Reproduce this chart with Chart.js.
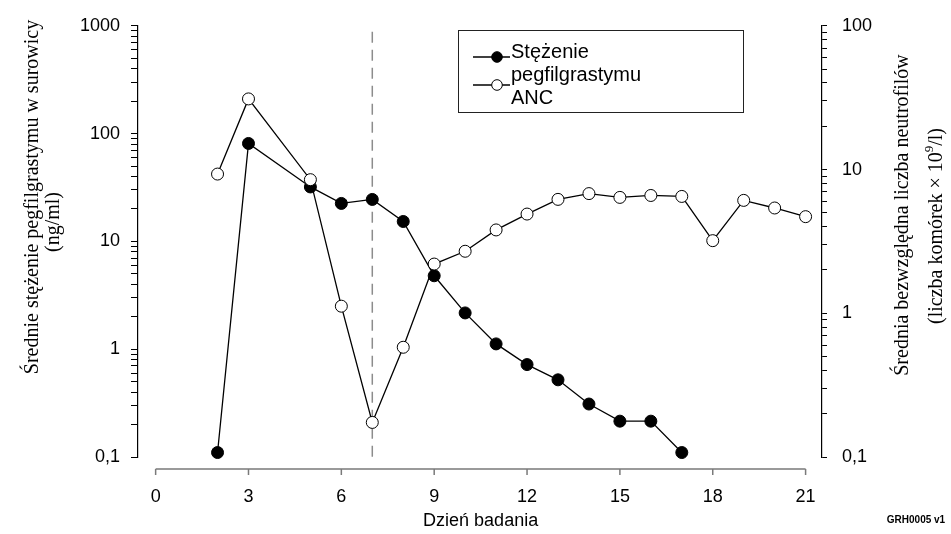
<!DOCTYPE html>
<html>
<head>
<meta charset="utf-8">
<script src="https://cdn.jsdelivr.net/npm/chart.js@4"></script>
<style>
  html, body { margin: 0; padding: 0; background: #fff; }
  #wrap { width: 951px; height: 534px; }
</style>
</head>
<body>
<div id="wrap"><canvas id="grafico"></canvas></div>
<script>
// dane
const dniPeg = [2, 3, 5, 6, 7, 8, 9, 10, 11, 12, 13, 14, 15, 16, 17];
const stezeniePeg = [0.11, 81, 32, 22.5, 24.5, 15.3, 4.8, 2.17, 1.12, 0.72, 0.52, 0.31, 0.215, 0.215, 0.11];
const dniAnc = [2, 3, 5, 6, 7, 8, 9, 10, 11, 12, 13, 14, 15, 16, 17, 18, 19, 20, 21];
const wartosciAnc = [9.3, 31, 8.5, 1.12, 0.174, 0.58, 2.2, 2.7, 3.8, 4.9, 6.2, 6.8, 6.4, 6.6, 6.5, 3.2, 6.1, 5.4, 4.7];
const xTicks = [0, 3, 6, 9, 12, 15, 18, 21];
const yLewyTicks = [0.1, 1, 10, 100, 1000];
const yPrawyTicks = [0.1, 1, 10, 100];
const dzienPodania = 7;

const tytulX = "Dzień badania";
const tytulLewy = ["Średnie stężenie pegfilgrastymu w surowicy", "(ng/ml)"];
const tytulPrawy = "Średnia bezwzględna liczba neutrofilów";
const kod = "GRH0005 v1";

Chart.defaults.font.family = "'Liberation Sans', Arial, sans-serif";
Chart.defaults.font.size = 18;
Chart.defaults.color = "#000";

// podziałki logarytmiczne: główne + pośrednie (2..9)
function podzialki(glowne) {
  const t = [];
  glowne.forEach((v, i) => {
    t.push({ value: v, major: true });
    if (i < glowne.length - 1) {
      for (let k = 2; k <= 9; k++) t.push({ value: +(v * k).toPrecision(3), major: false });
    }
  });
  return t;
}
function etykieta(glowne) {
  return (v) => (glowne.includes(v) ? String(v).replace(".", ",") : "");
}

const rysunek = {
  id: "rysunek",
  beforeDatasetsDraw(chart) {
    const { ctx, chartArea, scales } = chart;
    const px = scales.x.getPixelForValue(dzienPodania);
    ctx.save();
    ctx.strokeStyle = "#8c8c8c";
    ctx.lineWidth = 1.5;
    ctx.setLineDash([11, 7]);
    ctx.beginPath();
    ctx.moveTo(px, chartArea.top + 6);
    ctx.lineTo(px, chartArea.bottom);
    ctx.stroke();
    ctx.restore();
  },
  afterDraw(chart) {
    const { ctx, chartArea, scales } = chart;
    const x = scales.x;
    ctx.save();

    // oś X odsunięta pod obszar wykresu
    const yOs = chartArea.bottom + 12;
    ctx.strokeStyle = "#7a7a7a";
    ctx.lineWidth = 1.5;
    ctx.beginPath();
    ctx.moveTo(x.getPixelForValue(xTicks[0]), yOs);
    ctx.lineTo(x.getPixelForValue(xTicks[xTicks.length - 1]), yOs);
    xTicks.forEach((t) => {
      const p = x.getPixelForValue(t);
      ctx.moveTo(p, yOs);
      ctx.lineTo(p, yOs + 6);
    });
    ctx.stroke();

    ctx.fillStyle = "#000";
    ctx.textAlign = "center";
    ctx.textBaseline = "middle";
    ctx.font = "18px 'Liberation Sans', Arial, sans-serif";
    ctx.fillText(tytulX, (x.getPixelForValue(0) + x.getPixelForValue(21)) / 2, 521);

    // tytuły osi Y
    ctx.font = "20px 'Liberation Serif', 'Times New Roman', serif";
    ctx.save();
    ctx.translate(33, 197);
    ctx.rotate(-Math.PI / 2);
    ctx.fillText(tytulLewy[0], 0, 0);
    ctx.restore();
    ctx.save();
    ctx.translate(54, 222);
    ctx.rotate(-Math.PI / 2);
    ctx.fillText(tytulLewy[1], 0, 0);
    ctx.restore();

    ctx.save();
    ctx.translate(903, 215);
    ctx.rotate(-Math.PI / 2);
    ctx.fillText(tytulPrawy, 0, 0);
    ctx.restore();

    // druga linia z indeksem górnym
    const cz1 = "(liczba komórek × 10", cz2 = "9", cz3 = "/l)";
    const f = "20px 'Liberation Serif', 'Times New Roman', serif";
    const fs = "13px 'Liberation Serif', 'Times New Roman', serif";
    ctx.font = f;
    const w1 = ctx.measureText(cz1).width, w3 = ctx.measureText(cz3).width;
    ctx.font = fs;
    const w2 = ctx.measureText(cz2).width;
    const cal = w1 + w2 + w3;
    ctx.save();
    ctx.translate(937, 226);
    ctx.rotate(-Math.PI / 2);
    ctx.textAlign = "left";
    ctx.font = f;
    ctx.fillText(cz1, -cal / 2, 0);
    ctx.font = fs;
    ctx.fillText(cz2, -cal / 2 + w1, -7);
    ctx.font = f;
    ctx.fillText(cz3, -cal / 2 + w1 + w2, 0);
    ctx.restore();

    // legenda
    ctx.fillStyle = "#fff";
    ctx.fillRect(458, 30, 285, 82);
    ctx.strokeStyle = "#222";
    ctx.lineWidth = 1;
    ctx.strokeRect(458.5, 30.5, 285, 82);
    const ds = chart.data.datasets;
    const sym = (y, d) => {
      ctx.strokeStyle = "#000";
      ctx.lineWidth = 1.3;
      ctx.beginPath();
      ctx.moveTo(473, y);
      ctx.lineTo(510, y);
      ctx.stroke();
      ctx.beginPath();
      ctx.arc(497, y, 5.3, 0, Math.PI * 2);
      ctx.fillStyle = d.pointBackgroundColor;
      ctx.fill();
      ctx.lineWidth = 1;
      ctx.stroke();
    };
    sym(57, ds[1]);
    sym(85, ds[0]);
    ctx.fillStyle = "#000";
    ctx.textAlign = "left";
    ctx.textBaseline = "alphabetic";
    ctx.font = "20px 'Liberation Sans', Arial, sans-serif";
    const lbl = ds[1].label.split(" ");
    ctx.fillText(lbl[0], 511, 58);
    ctx.fillText(lbl[1], 511, 81);
    ctx.fillText(ds[0].label, 511, 104);

    // kod dokumentu
    ctx.font = "bold 10px 'Liberation Sans Narrow', 'Arial Narrow', sans-serif";
    ctx.textAlign = "center";
    ctx.textBaseline = "middle";
    ctx.fillText(kod, 916, 520);

    ctx.restore();
  }
};

const ctx = document.getElementById("grafico").getContext("2d");
const wykres = new Chart(ctx, {
  type: "line",
  data: {
    datasets: [
      {
        label: "ANC",
        data: dniAnc.map((d, i) => ({ x: d, y: wartosciAnc[i] })),
        yAxisID: "yPrawy",
        borderColor: "#000",
        borderWidth: 1.3,
        pointRadius: 6,
        pointBackgroundColor: "#fff",
        pointBorderColor: "#000",
        pointBorderWidth: 1,
        tension: 0,
        clip: false
      },
      {
        label: "Stężenie pegfilgrastymu",
        data: dniPeg.map((d, i) => ({ x: d, y: stezeniePeg[i] })),
        yAxisID: "yLewy",
        borderColor: "#000",
        borderWidth: 1.3,
        pointRadius: 6,
        pointBackgroundColor: "#000",
        pointBorderColor: "#000",
        pointBorderWidth: 1,
        tension: 0,
        clip: false
      }
    ]
  },
  options: {
    responsive: true,
    maintainAspectRatio: false,
    animation: false,
    layout: { padding: { top: 24, left: 0, right: 0, bottom: 0 } },
    plugins: { legend: { display: false }, tooltip: { enabled: false } },
    scales: {
      x: {
        type: "linear",
        min: -0.57,
        max: 21.53,
        afterBuildTicks: (s) => { s.ticks = xTicks.map((v) => ({ value: v })); },
        afterFit: (s) => { s.height = 77; },
        grid: { display: false, drawTicks: false },
        border: { display: false },
        ticks: { padding: 29, autoSkip: false, maxRotation: 0 }
      },
      yLewy: {
        type: "logarithmic",
        position: "left",
        min: 0.1,
        max: 1000,
        afterBuildTicks: (s) => { s.ticks = podzialki(yLewyTicks); },
        afterFit: (s) => { s.width = 138; },
        grid: { drawOnChartArea: false, tickLength: 7, tickColor: "#000", tickWidth: 1 },
        border: { color: "#000", width: 1.2 },
        ticks: { callback: etykieta(yLewyTicks), padding: 11, autoSkip: false }
      },
      yPrawy: {
        type: "logarithmic",
        position: "right",
        min: 0.1,
        max: 100,
        afterBuildTicks: (s) => { s.ticks = podzialki(yPrawyTicks); },
        afterFit: (s) => { s.width = 129; },
        grid: { drawOnChartArea: false, tickLength: 5, tickColor: "#000", tickWidth: 1 },
        border: { color: "#000", width: 1.2 },
        ticks: { callback: etykieta(yPrawyTicks), padding: 15, autoSkip: false }
      }
    }
  },
  plugins: [rysunek]
});
</script>
</body>
</html>
